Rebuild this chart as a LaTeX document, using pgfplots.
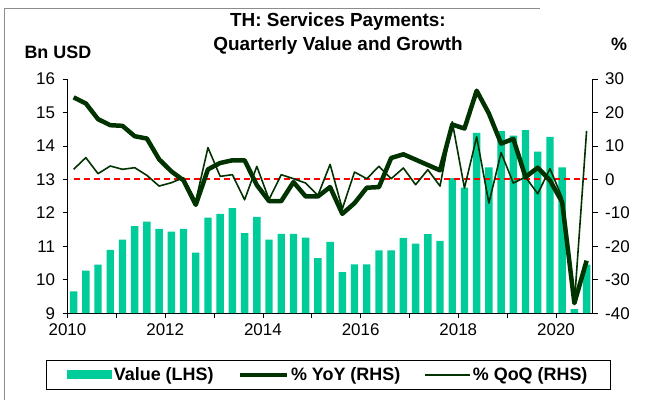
\documentclass[border=0pt]{standalone}
\usepackage{fontspec}
\setmainfont{Liberation Sans}
\usepackage{pgfplots}
\usepackage{pgfplotstable}
\pgfplotsset{compat=1.18}
\definecolor{barcol}{HTML}{00CC99}
\definecolor{linecol}{HTML}{003300}
\definecolor{framecol}{HTML}{8C8C8C}

% quarterly data, x = quarter centre
\pgfplotstableread{
x        val    yoy    qoq
2010.125  9.65  24.5    3.0
2010.375 10.27  22.7    6.5
2010.625 10.45  18.0    1.7
2010.875 10.89  16.2    4.0
2011.125 11.20  16.0    3.0
2011.375 11.60  12.9    3.5
2011.625 11.74  12.2    1.2
2011.875 11.52   6.0   -2.0
2012.125 11.44   2.4   -1.0
2012.375 11.52  -0.3    0.5
2012.625 10.81  -7.6   -6.5
2012.875 11.86   3.0    9.5
2013.125 11.97   4.9    0.9
2013.375 12.14   5.7    1.4
2013.625 11.39   5.7   -6.1
2013.875 11.88  -1.7    3.9
2014.125 11.20  -6.5   -6.0
2014.375 11.37  -6.5    1.4
2014.625 11.37  -0.8    0.2
2014.875 11.26  -5.1   -1.1
2015.125 10.65  -5.1   -4.8
2015.375 11.13  -2.3    4.5
2015.625 10.23 -10.3   -8.8
2015.875 10.46  -7.1    2.2
2016.125 10.46  -2.5    0.2
2016.375 10.88  -2.3    3.9
2016.625 10.88   6.4    0.2
2016.875 11.25   7.5    3.4
2017.125 11.08   5.9   -1.6
2017.375 11.36   4.3    2.9
2017.625 11.16   2.7   -2.0
2017.875 13.04  16.4   17.2
2018.125 12.75  15.2   -2.6
2018.375 14.39  26.5   12.7
2018.625 13.36  19.7   -7.1
2018.875 14.44  10.7    8.0
2019.125 14.31  12.1   -1.1
2019.375 14.47   0.7    0.7
2019.625 13.83   3.5   -4.3
2019.875 14.27  -0.3    3.2
2020.125 13.36  -6.8   -5.5
2020.375  9.12 -37.0  -37.0
2020.625 10.45 -24.3   14.5
}\svcdata

\pgfplotsset{
  common/.style={
    at={(67.5bp,-313.2bp)}, anchor=south west,
    scale only axis, width=525.2bp, height=234.2bp,
    xmin=2010, xmax=2020.75,
    tick align=outside, major tick length=5bp,
    axis line style={-, black, line width=0.8bp},
    tick style={black, line width=0.8bp},
    tick label style={font=\fontsize{17}{17}\selectfont},
  },
}

\begin{document}
\begin{tikzpicture}
\useasboundingbox (0bp,0bp) rectangle (647bp,-400bp);
\draw[framecol, line width=0.8bp] (4bp,-400bp) -- (4bp,-8bp) -- (540bp,-8bp);

\begin{axis}[common,
    ymin=9, ymax=16, ytick={9,...,16},
    yticklabels={9,10,11,12,13,14,15,16},
    axis x line*=bottom, axis y line*=left,
    xtick={2010,...,2020},
    xticklabels={2010,,2012,,2014,,2016,,2018,,2020},
    yticklabel style={xshift=-4bp},
    xticklabel style={yshift=-2bp},
    ybar, bar width=7.4bp,
]
\addplot[fill=barcol, draw=none] table[x=x, y=val] {\svcdata};
\end{axis}

\begin{axis}[common,
    ymin=-40, ymax=30, ytick={-40,-30,...,30},
    yticklabels={-40,-30,-20,-10,0,10,20,30},
    hide x axis, axis y line*=right,
    yticklabel style={xshift=4bp},
    legend columns=3,
    legend style={at={(axis description cs:-0.0415,-0.2009)}, anchor=north west,
      draw=black, line width=0.8bp, inner xsep=21bp, inner ysep=5bp,
      font=\bfseries\fontsize{18}{18}\selectfont,
      nodes={inner sep=2bp},
      /tikz/every even column/.append style={column sep=22bp}},
]
\addlegendimage{legend image code/.code={\fill[barcol] (0bp,-4bp) rectangle (44bp,4bp);}}
\addlegendentry{Value (LHS)}
\addplot[red, line width=2bp, dash pattern=on 6.5bp off 3.5bp, forget plot]
  coordinates {(2010.125,0) (2020.625,0)};
\addplot[linecol, line width=4.5bp, line join=round,
  legend image code/.code={\draw[linecol, line width=4.5bp] (0bp,0bp) -- (47bp,0bp);}]
  table[x=x, y=yoy] {\svcdata};
\addlegendentry{\% YoY (RHS)}
\addplot[linecol, line width=1.6bp, line join=round,
  legend image code/.code={\draw[linecol, line width=1.6bp] (0bp,0bp) -- (45bp,0bp);}]
  table[x=x, y=qoq] {\svcdata};
\addlegendentry{\% QoQ (RHS)}
\end{axis}

\node[font=\bfseries\fontsize{19}{19}\selectfont, anchor=base] at (338bp,-26bp) {TH: Services Payments:};
\node[font=\bfseries\fontsize{19}{19}\selectfont, anchor=base] at (338bp,-50bp) {Quarterly Value and Growth};
\node[font=\bfseries\fontsize{18}{18}\selectfont, anchor=base west] at (21bp,-58.5bp) {Bn USD};
\node[font=\bfseries\fontsize{18}{18}\selectfont, anchor=base] at (619bp,-50.3bp) {\%};
\end{tikzpicture}
\end{document}
